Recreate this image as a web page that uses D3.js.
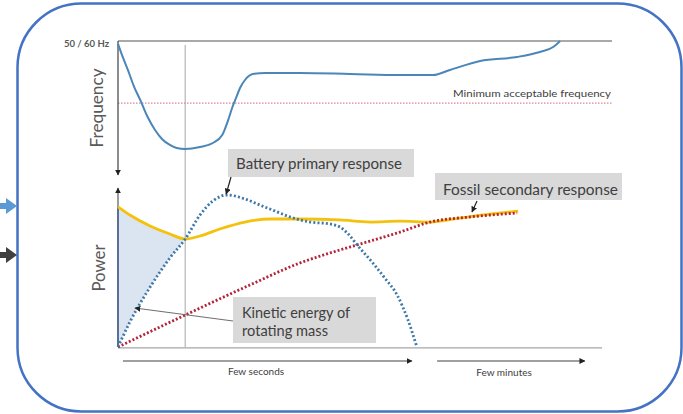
<!DOCTYPE html>
<html><head><meta charset="utf-8">
<script src="https://cdn.jsdelivr.net/npm/d3@7"></script>
<style>html,body{margin:0;padding:0;background:#fff;overflow:hidden}</style>
</head><body>
<script>
// ---- data (arbitrary units, time 0..100, value 0..100) ----
const freqX = [0,0.8,2.0,3.2,4.5,5.9,7.5,8.9,10.5,11.9,13.6,16.6,19.2,21.1,22.3,23.1,23.9,24.7,25.7,27.3,29.8,36.8,47.0,57.1,63.8,67.2,73.3,80.8,85.4,88.1,89.5];
const freqY = [97.8,89.6,78.4,66.4,56.0,44.0,33.6,26.9,22.4,20.1,19.4,20.9,23.9,29.9,41.0,50.0,57.5,64.9,70.9,75.4,76.1,76.1,75.4,74.6,74.6,78.4,85.1,88.1,91.8,95.5,100];
const nominalFreq = 100;
const minFreq = 53.7;

const fossilX = [0,2.4,6.5,10.5,13.6,16.6,20.6,25.7,30.8,36.8,44.9,51.0,57.1,63.2,69.2,75.3,81.0];
const fossilY = [88.1,83.0,76.1,71.1,67.9,69.8,74.2,78.6,80.5,80.5,79.9,78.6,79.2,78.6,81.1,83.6,85.5];

const batteryX = [0,2.4,6.5,10.5,13.6,16.6,19.2,22.1,25.7,28.7,31.8,34.8,38.9,42.9,44.9,46.6,48.4,51.6,54.0,56.5,58.7,60.5];
const batteryY = [0,15.7,37.7,56.0,67.9,83.0,91.8,95.6,93.1,89.3,85.5,81.8,78.6,77.4,75.5,71.1,64.2,52.8,43.4,32.7,17.0,0];

const secondaryX = [0,13.6,26.7,36.8,44.9,48.4,57.1,63.2,71.3,80.8];
const secondaryY = [0,20.1,39.0,52.8,61.0,64.2,72.3,78.6,81.8,84.3];

const eventTime = 13.6;
const labels = {
  nominal: "50 / 60 Hz",
  minFreq: "Minimum acceptable frequency",
  freqAxis: "Frequency",
  powerAxis: "Power",
  battery: "Battery primary response",
  fossil: "Fossil secondary response",
  kinetic: ["Kinetic energy of", "rotating mass"],
  seconds: "Few seconds",
  minutes: "Few minutes"
};

// ---- layout ----
const W = 683, H = 414;
const svg = d3.select("body").append("svg").attr("width", W).attr("height", H)
  .style("font-family", "Lato, 'Open Sans', sans-serif");

const x = d3.scaleLinear().domain([0,100]).range([118,612]);
const yF = d3.scaleLinear().domain([0,100]).range([175,41]);
const yP = d3.scaleLinear().domain([0,100]).range([347,188]);

const defs = svg.append("defs");
function marker(id, color){
  defs.append("marker").attr("id", id).attr("viewBox","0 0 10 10").attr("refX",9).attr("refY",5)
    .attr("markerWidth",6).attr("markerHeight",6).attr("orient","auto-start-reverse")
    .attr("markerUnits","userSpaceOnUse")
    .append("path").attr("d","M0,0L10,5L0,10Z").attr("fill",color);
}
marker("ah","#222");

// frame
svg.append("rect").attr("x",17.5).attr("y",3.5).attr("width",664).attr("height",408)
  .attr("rx",64).attr("ry",64).attr("fill","none").attr("stroke","#4472c4").attr("stroke-width",2.5);

// side arrows
svg.append("path").attr("d","M0,203L6,203L6,198L17,206L6,214L6,209L0,209Z").attr("fill","#5b9bd5");
svg.append("path").attr("d","M0,252L6,252L6,247L17,255L6,263L6,258L0,258Z").attr("fill","#404040");

const line = (xs, ys, ys_scale) => d3.line().x((d,i)=>x(xs[i])).y((d,i)=>ys_scale(ys[i])).curve(d3.curveMonotoneX)(xs);

// ---- frequency panel ----
svg.append("line").attr("x1",x(0)).attr("x2",x(100)).attr("y1",yF(nominalFreq)).attr("y2",yF(nominalFreq))
  .attr("stroke","#8c8c8c").attr("stroke-width",1.5);
svg.append("line").attr("x1",x(0)).attr("x2",x(100)).attr("y1",yF(minFreq)).attr("y2",yF(minFreq))
  .attr("stroke","#d9879a").attr("stroke-width",1.2).attr("stroke-dasharray","1.5,1.5");
// event vertical line
svg.append("line").attr("x1",x(eventTime)).attr("x2",x(eventTime)).attr("y1",yF(97)).attr("y2",yP(0))
  .attr("stroke","#a6a6a6").attr("stroke-width",1);
// freq axis (arrow down)
svg.append("line").attr("x1",x(0)).attr("x2",x(0)).attr("y1",yF(100)).attr("y2",yF(0))
  .attr("stroke","#404040").attr("stroke-width",1.2).attr("marker-end","url(#ah)");
svg.append("path").attr("d", line(freqX, freqY, yF)).attr("fill","none")
  .attr("stroke","#4a86b8").attr("stroke-width",2);

svg.append("text").attr("x",109).attr("y",47).attr("text-anchor","end").attr("font-size",9.5)
  .attr("font-weight","bold").attr("fill","#595959").text(labels.nominal);
svg.append("text").attr("x",611).attr("y",97).attr("text-anchor","end").attr("font-size",10)
  .attr("fill","#404040").attr("textLength",158).attr("lengthAdjust","spacingAndGlyphs").text(labels.minFreq);
svg.append("text").attr("transform",`translate(103,108) rotate(-90)`).attr("text-anchor","middle")
  .attr("font-size",17).attr("fill","#595959").attr("textLength",79).attr("lengthAdjust","spacingAndGlyphs").text(labels.freqAxis);

// ---- power panel ----
const ySub = fossilX.map((v,i)=>[v,fossilY[i]]).filter(d=>d[0]<=eventTime);
const bSub = batteryX.map((v,i)=>[v,batteryY[i]]).filter(d=>d[0]<=eventTime).reverse();
const pl = d3.line().x(d=>x(d[0])).y(d=>yP(d[1])).curve(d3.curveMonotoneX);
const areaPath = pl(ySub) + pl(bSub).replace("M","L") + "Z";
svg.append("path").attr("d",areaPath).attr("fill","#dbe5f1");

// baseline
svg.append("line").attr("x1",x(0)).attr("x2",x(98)).attr("y1",yP(-0.6)).attr("y2",yP(-0.6))
  .attr("stroke","#a6a6a6").attr("stroke-width",1.2);
// power axis (arrow up)
svg.append("line").attr("x1",x(0)).attr("x2",x(0)).attr("y1",yP(0)).attr("y2",yP(100))
  .attr("stroke","#595959").attr("stroke-width",1.2).attr("marker-end","url(#ah)");
svg.append("line").attr("x1",x(0)).attr("x2",x(0)).attr("y1",yP(0)).attr("y2",yP(fossilY[0]))
  .attr("stroke","#5a6f96").attr("stroke-width",2);

svg.append("path").attr("d", line(fossilX, fossilY, yP)).attr("fill","none")
  .attr("stroke","#f4c20d").attr("stroke-width",2.8);
svg.append("path").attr("d", line(secondaryX, secondaryY, yP)).attr("fill","none")
  .attr("stroke","#b3243a").attr("stroke-width",2.8).attr("stroke-dasharray","2,2");
svg.append("path").attr("d", line(batteryX, batteryY, yP)).attr("fill","none")
  .attr("stroke","#3d78a9").attr("stroke-width",2.8).attr("stroke-dasharray","2,2.2");

svg.append("text").attr("transform",`translate(105,268) rotate(-90)`).attr("text-anchor","middle")
  .attr("font-size",17).attr("fill","#595959").attr("textLength",47).attr("lengthAdjust","spacingAndGlyphs").text(labels.powerAxis);

// time arrows
const tY = 361;
svg.append("line").attr("x1",x(1)).attr("x2",x(59.5)).attr("y1",tY).attr("y2",tY)
  .attr("stroke","#404040").attr("stroke-width",1.2).attr("marker-end","url(#ah)");
svg.append("line").attr("x1",x(64.6)).attr("x2",x(94.5)).attr("y1",tY).attr("y2",tY)
  .attr("stroke","#404040").attr("stroke-width",1.2).attr("marker-end","url(#ah)");
svg.append("text").attr("x",256).attr("y",375).attr("text-anchor","middle").attr("font-size",10)
  .attr("fill","#404040").text(labels.seconds);
svg.append("text").attr("x",504).attr("y",376).attr("text-anchor","middle").attr("font-size",10)
  .attr("fill","#404040").text(labels.minutes);

// ---- annotations ----
function box(x0,y0,w,h){ svg.append("rect").attr("x",x0).attr("y",y0).attr("width",w).attr("height",h).attr("fill","#d9d9d9"); }
function arrow(x1,y1,x2,y2,c){ svg.append("line").attr("x1",x1).attr("y1",y1).attr("x2",x2).attr("y2",y2)
  .attr("stroke",c).attr("stroke-width",1.2).attr("marker-end","url(#ah)"); }
function label(x0,y0,t,len){ svg.append("text").attr("x",x0).attr("y",y0).attr("font-size",16).attr("fill","#404040")
  .attr("textLength",len).attr("lengthAdjust","spacingAndGlyphs").text(t); }

box(228,149,186,28);
label(236,169,labels.battery,166);
arrow(231,177, x(22.1)-1, yP(95.6)-1, "#222");

box(435,173,187,27);
label(443,195,labels.fossil,175);
arrow(477,201, 472, 212, "#222");

box(233,297,143,46);
label(242,318,labels.kinetic[0],108);
label(242,336,labels.kinetic[1],86);
arrow(233,321, 135, 308, "#707070");
</script>
</body></html>
